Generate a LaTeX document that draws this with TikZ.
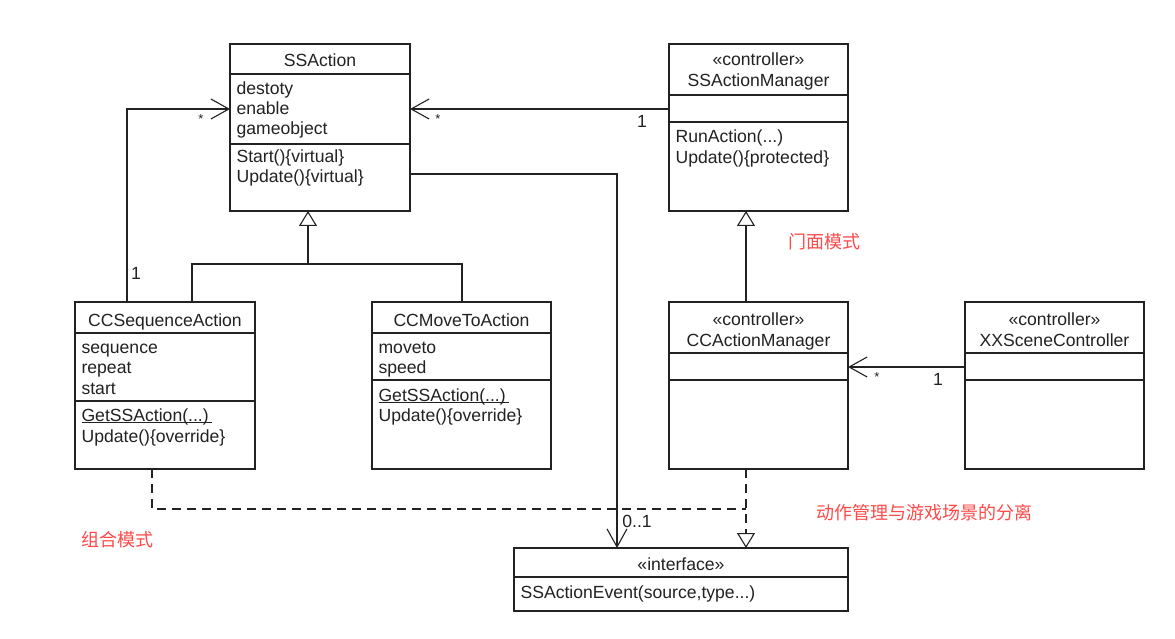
\documentclass[tikz,border=0pt]{standalone}
\usepackage{fontspec}
\setmainfont{Liberation Sans}
\newfontfamily\cjk{Noto Sans CJK SC}
\usetikzlibrary{arrows.meta,fit}
\definecolor{ink}{HTML}{222222}
\definecolor{redtxt}{HTML}{FF4A4A}
\newcommand\ulx[1]{\setbox0\hbox{#1}\rlap{\rule[-2.2pt]{\wd0}{0.9pt}}\box0}
\begin{document}
\begin{tikzpicture}[x=1pt,y=-1pt,line width=1.1pt,draw=ink,
  box/.style={draw=ink,inner sep=0pt,outer sep=0pt,fill=white},
  lbl/.style={anchor=base west,inner sep=0pt,text=ink,font=\fontsize{17.6}{20}\selectfont},
  ttl/.style={anchor=base,inner sep=0pt,text=ink,font=\fontsize{17.6}{20}\selectfont},
  mult/.style={inner sep=0pt,text=ink,font=\fontsize{17.6}{20}\selectfont},
  star/.style={inner sep=0pt,text=ink,font=\fontsize{13}{14}\selectfont},
  note/.style={inner sep=0pt,text=redtxt,font=\cjk\fontsize{18}{20}\selectfont},
  assoc/.style={-{Straight Barb[length=18pt,width=20pt]}},
  inh/.style={-{Triangle[open,length=15pt,width=18pt,fill=white]}},
  dsh/.style={dash pattern=on 9pt off 6pt}]
\useasboundingbox (0,0) rectangle (1175,639);
\fill[white] (0,0) rectangle (1175,639);

% boxes
\node[box,fit={(230,44) (410,211)}] (ssa) {};
\node[box,fit={(669,44) (848,211)}] (mgr) {};
\node[box,fit={(75,302) (255,469)}] (seq) {};
\node[box,fit={(372,302) (551,469)}] (move) {};
\node[box,fit={(669,302) (848,469)}] (cam) {};
\node[box,fit={(965,302) (1144,469)}] (xx) {};
\node[box,fit={(514,548) (848,611)}] (iface) {};

% dividers
\draw (230,74) -- (410,74);  \draw (230,144) -- (410,144);
\draw (669,95) -- (848,95);  \draw (669,122) -- (848,122);
\draw (75,333) -- (255,333); \draw (75,401) -- (255,401);
\draw (372,333) -- (551,333); \draw (372,380) -- (551,380);
\draw (669,353) -- (848,353); \draw (669,380) -- (848,380);
\draw (965,353) -- (1144,353); \draw (965,380) -- (1144,380);
\draw (514,577) -- (848,577);

% SSAction
\node[ttl] (t1) at (320,67) {SSAction};
\node[lbl] (a11) at (236,95) {destoty};
\node[lbl] (a12) at (236,115) {enable};
\node[lbl] (a13) at (236,135) {gameobject};
\node[lbl] (m11) at (236,163) {Start()\{virtual\}};
\node[lbl] (m12) at (236,183) {Update()\{virtual\}};

% SSActionManager
\node[ttl] (s2) at (758.5,66) {«controller»};
\node[ttl] (t2) at (758.5,87) {SSActionManager};
\node[lbl] (m21) at (675,143) {RunAction(...)};
\node[lbl] (m22) at (675,164) {Update()\{protected\}};

% CCSequenceAction
\node[ttl] (t3) at (165,326) {CCSequenceAction};
\node[lbl] (a31) at (81,353) {sequence};
\node[lbl] (a32) at (81,373) {repeat};
\node[lbl] (a33) at (81,394) {start};
\node[lbl] (m31) at (81,421) {\ulx{GetSSAction(...)\,}};
\node[lbl] (m32) at (81,442) {Update()\{override\}};

% CCMoveToAction
\node[ttl] (t4) at (461.5,326) {CCMoveToAction};
\node[lbl] (a41) at (378,353) {moveto};
\node[lbl] (a42) at (378,373) {speed};
\node[lbl] (m41) at (378,401) {\ulx{GetSSAction(...)\,}};
\node[lbl] (m42) at (378,421) {Update()\{override\}};

% CCActionManager
\node[ttl] (s5) at (758.5,325) {«controller»};
\node[ttl] (t5) at (758.5,346) {CCActionManager};

% XXSceneController
\node[ttl] (s6) at (1054.5,325) {«controller»};
\node[ttl] (t6) at (1054.5,346) {XXSceneController};

% interface
\node[ttl] (s7) at (681,570) {«interface»};
\node[lbl] (m71) at (520,598) {SSActionEvent(source,type...)};

% helper coordinates
\coordinate (r109) at (0,109);
\coordinate (r174) at (0,174);
\coordinate (r367) at (0,367);
\coordinate (r509) at (0,509);
\coordinate (c127) at (127,0);
\coordinate (c152) at (152,0);
\coordinate (c192) at (192,0);
\coordinate (c462) at (462,0);
\coordinate (c617) at (617,0);
\coordinate (c746) at (746,0);
\coordinate (j) at (308,264);

% connectors
\draw[assoc] (mgr.west |- r109) -- (ssa.east |- r109);
\draw[assoc] (seq.north -| c127) |- (ssa.west |- r109);
\draw[assoc] (ssa.east |- r174) -| (iface.north -| c617);
\draw[inh] (j) -- (ssa.south -| j);
\draw (seq.north -| c192) -- (c192 |- j) -- (c462 |- j) -- (move.north -| c462);
\draw[inh] (cam.north -| c746) -- (mgr.south -| c746);
\draw[assoc] (xx.west |- r367) -- (cam.east |- r367);
\draw[dsh,inh] (cam.south -| c746) -- (iface.north -| c746);
\draw[dsh] (seq.south -| c152) |- (c746 |- r509);

% multiplicities
\node[star] (k1) at (201,119) {*};
\node[mult] (k2) at (136,273) {1};
\node[star] (k3) at (438,119) {*};
\node[mult] (k4) at (642,121) {1};
\node[star] (k5) at (877,377) {*};
\node[mult] (k6) at (938,379) {1};
\node[mult] (k7) at (637,521) {0..1};

% notes
\node[note] (n1) at (824.5,242) {门面模式};
\node[note] (n2) at (924.5,513) {动作管理与游戏场景的分离};
\node[note] (n3) at (117.5,540) {组合模式};
\end{tikzpicture}
\end{document}
